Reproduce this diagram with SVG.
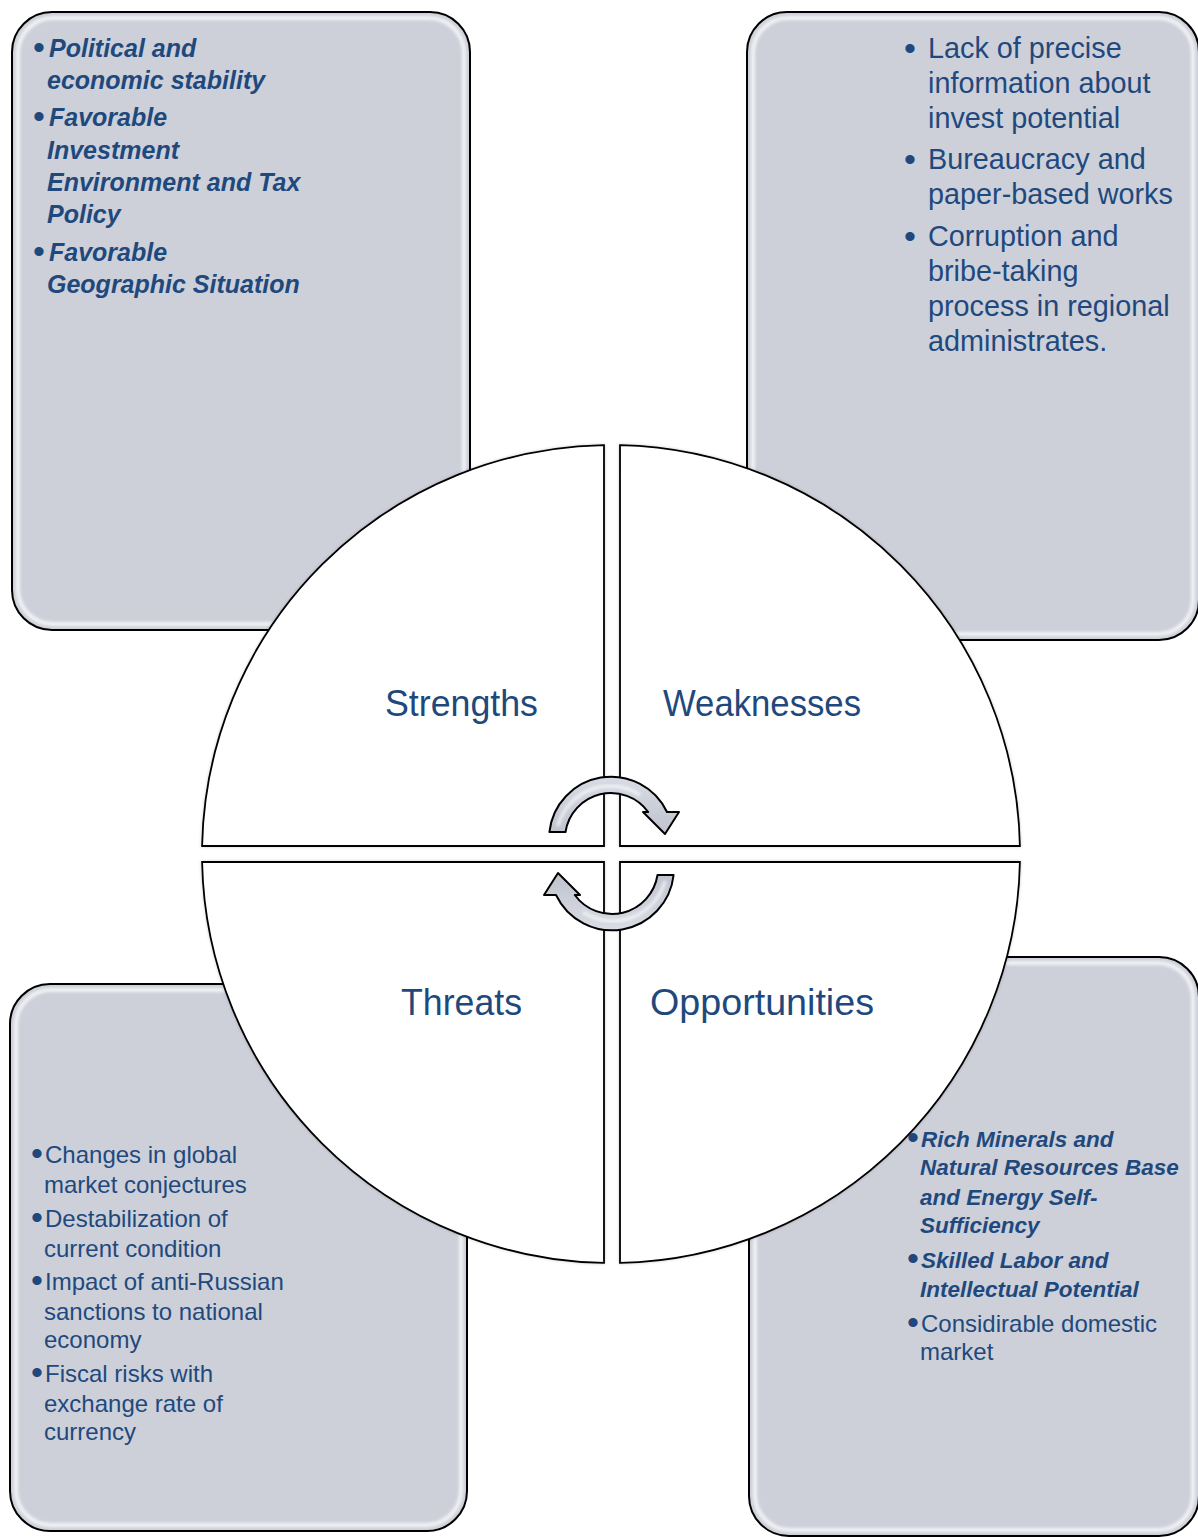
<svg xmlns="http://www.w3.org/2000/svg" width="1198" height="1537" viewBox="0 0 1198 1537">
<defs>
<filter id="blur1" x="-5%" y="-5%" width="110%" height="110%"><feGaussianBlur stdDeviation="1.5"/></filter>
<filter id="qshadow" x="-5%" y="-5%" width="110%" height="110%"><feDropShadow dx="0" dy="0" stdDeviation="1.5" flood-color="#000" flood-opacity="0.2"/></filter>
<linearGradient id="arrowFill" x1="0" y1="0" x2="0" y2="1">
<stop offset="0" stop-color="#D9DCE4"/>
<stop offset="1" stop-color="#BFC3CE"/>
</linearGradient>
<path id="arrowShape" d="M549.4,832 A62,62 0 0 1 667,812 L679,812 L665,834 L643,812 L648.2,812 A46,46 0 0 0 565.5,832 Z"/>
</defs>
<style>
.box{fill:#CDD0D9;stroke:#000;stroke-width:2}
.gloss{fill:none;stroke:#FFFFFF;stroke-width:4;stroke-opacity:0.75}
.quad{fill:#FFFFFF;stroke:#000;stroke-width:1.8}
.arrow{fill:url(#arrowFill);stroke:#000;stroke-width:2;stroke-linejoin:round}
.bi{font-family:"Liberation Sans",Arial,sans-serif;font-weight:bold;font-style:italic;fill:#1F497D}
.rg{font-family:"Liberation Sans",Arial,sans-serif;fill:#1F497D}
.bul{font-family:"Liberation Sans",Arial,sans-serif;fill:#1F497D;font-size:34px}
.lbl{font-family:"Liberation Sans",Arial,sans-serif;fill:#1F497D;font-size:36px;text-anchor:middle}
</style>

<g id="box-strengths">
<rect class="box" x="12" y="12" width="458" height="618" rx="40" ry="40"/>
<rect class="gloss" x="18" y="18" width="446" height="606" rx="35" ry="35" filter="url(#blur1)"/>
<g class="bul">
<text x="33" y="59">•</text><text x="33" y="128">•</text><text x="33" y="263">•</text>
</g>
<g class="bi" font-size="25">
<text x="49" y="57">Political and</text>
<text x="47" y="89">economic stability</text>
<text x="49" y="126">Favorable</text>
<text x="47" y="159">Investment</text>
<text x="47" y="191">Environment and Tax</text>
<text x="47" y="223">Policy</text>
<text x="49" y="261">Favorable</text>
<text x="47" y="293">Geographic Situation</text>
</g>
</g>

<g id="box-weaknesses">
<rect class="box" x="747" y="12" width="452" height="628" rx="40" ry="40"/>
<rect class="gloss" x="753" y="18" width="440" height="616" rx="35" ry="35" filter="url(#blur1)"/>
<g class="bul">
<text x="904" y="60">•</text><text x="904" y="171">•</text><text x="904" y="248">•</text>
</g>
<g class="rg" font-size="28.8">
<text x="928" y="58">Lack of precise</text>
<text x="928" y="93">information about</text>
<text x="928" y="128">invest potential</text>
<text x="928" y="169">Bureaucracy and</text>
<text x="928" y="204">paper-based works</text>
<text x="928" y="246">Corruption and</text>
<text x="928" y="281">bribe-taking</text>
<text x="928" y="316">process in regional</text>
<text x="928" y="351">administrates.</text>
</g>
</g>

<g id="box-threats">
<rect class="box" x="10" y="984" width="457" height="547" rx="40" ry="40"/>
<rect class="gloss" x="16" y="990" width="445" height="535" rx="35" ry="35" filter="url(#blur1)"/>
<g class="bul" font-size="30">
<text x="31" y="1165">•</text><text x="31" y="1229">•</text><text x="31" y="1292">•</text><text x="31" y="1384">•</text>
</g>
<g class="rg" font-size="24">
<text x="45" y="1163">Changes in global</text>
<text x="44" y="1193">market conjectures</text>
<text x="45" y="1227">Destabilization of</text>
<text x="44" y="1257">current condition</text>
<text x="45" y="1290">Impact of anti-Russian</text>
<text x="44" y="1320">sanctions to national</text>
<text x="44" y="1348">economy</text>
<text x="45" y="1382">Fiscal risks with</text>
<text x="44" y="1412">exchange rate of</text>
<text x="44" y="1440">currency</text>
</g>
</g>

<g id="box-opportunities">
<rect class="box" x="749" y="957" width="450" height="579" rx="40" ry="40"/>
<rect class="gloss" x="755" y="963" width="438" height="567" rx="35" ry="35" filter="url(#blur1)"/>
<g class="bul" font-size="30">
<text x="907" y="1149">•</text><text x="907" y="1270">•</text><text x="907" y="1334">•</text>
</g>
<g class="bi" font-size="22.5">
<text x="921" y="1147">Rich Minerals and</text>
<text x="920" y="1175">Natural Resources Base</text>
<text x="920" y="1205">and Energy Self-</text>
<text x="920" y="1233">Sufficiency</text>
<text x="921" y="1268">Skilled Labor and</text>
<text x="920" y="1297">Intellectual Potential</text>
</g>
<g class="rg" font-size="24">
<text x="921" y="1332">Considirable domestic</text>
<text x="920" y="1360">market</text>
</g>
</g>

<g id="quad-strengths">
<path class="quad" filter="url(#qshadow)" d="M604,846 L202.1,846 A409,409 0 0 1 604,445.1 Z"/>
<text class="lbl" x="461.5" y="716" textLength="153" lengthAdjust="spacingAndGlyphs">Strengths</text>
</g>
<g id="quad-weaknesses">
<path class="quad" filter="url(#qshadow)" d="M620,846 L620,445.1 A409,409 0 0 1 1019.9,846 Z"/>
<text class="lbl" x="762" y="716" textLength="198" lengthAdjust="spacingAndGlyphs">Weaknesses</text>
</g>
<g id="quad-threats">
<path class="quad" filter="url(#qshadow)" d="M604,862 L604,1262.9 A409,409 0 0 1 202.1,862 Z"/>
<text class="lbl" x="461.5" y="1015" textLength="121" lengthAdjust="spacingAndGlyphs">Threats</text>
</g>
<g id="quad-opportunities">
<path class="quad" filter="url(#qshadow)" d="M620,862 L1019.9,862 A409,409 0 0 1 620,1262.9 Z"/>
<text class="lbl" x="762" y="1015" textLength="224" lengthAdjust="spacingAndGlyphs">Opportunities</text>
</g>

<g id="connectors">
<g id="arrow-top">
<use href="#arrowShape" class="arrow"/>
<path d="M558,826 A54,54 0 0 1 640,795" fill="none" stroke="#FFFFFF" stroke-width="3" stroke-opacity="0.7" filter="url(#blur1)"/>
</g>
<g id="arrow-bottom" transform="rotate(180 611.5 853.5)">
<use href="#arrowShape" class="arrow"/>
<path d="M558,826 A54,54 0 0 1 640,795" fill="none" stroke="#FFFFFF" stroke-width="3" stroke-opacity="0.7" filter="url(#blur1)"/>
</g>
</g>
</svg>
